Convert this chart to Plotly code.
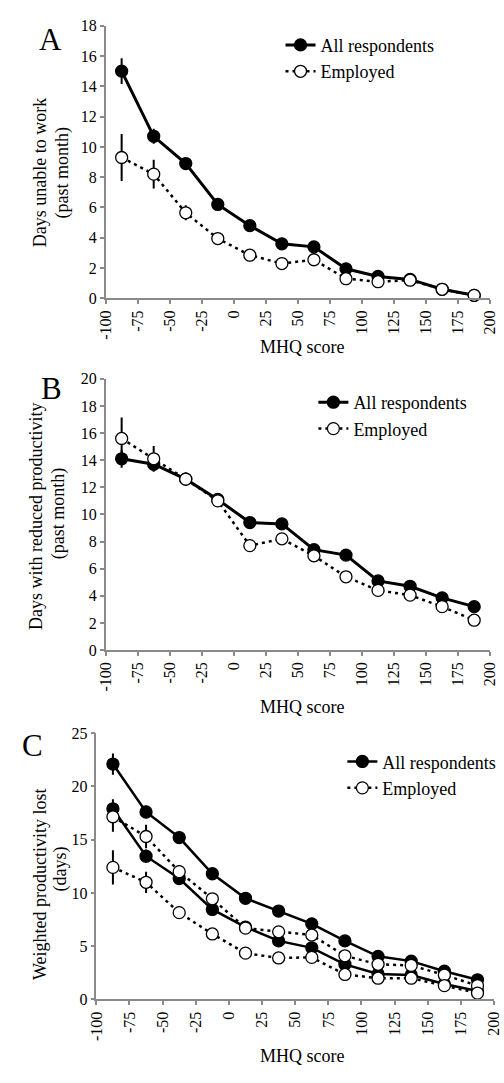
import plotly.graph_objects as go

W, H = 504, 1083

mhq = [-87.5, -62.5, -37.5, -12.5, 12.5, 37.5, 62.5, 87.5, 112.5, 137.5, 162.5, 187.5]
x_ticks = [-100, -75, -50, -25, 0, 25, 50, 75, 100, 125, 150, 175, 200]

# Panel A: days unable to work
a_all = [15.0, 10.7, 8.9, 6.2, 4.8, 3.6, 3.4, 1.95, 1.45, 1.25, 0.6, 0.2]
a_all_err = [0.85, 0.5, 0.35, 0.3, 0.25, 0.2, 0.25, 0.2, 0.15, 0.15, 0.1, 0.05]
a_emp = [9.3, 8.2, 5.65, 3.95, 2.85, 2.3, 2.55, 1.3, 1.1, 1.2, 0.6, 0.2]
a_emp_err = [1.55, 0.95, 0.5, 0.35, 0.3, 0.25, 0.3, 0.2, 0.15, 0.15, 0.1, 0.05]

# Panel B: days with reduced productivity
b_all = [14.1, 13.7, 12.6, 11.1, 9.4, 9.3, 7.4, 7.0, 5.1, 4.7, 3.85, 3.2]
b_all_err = [0.65, 0.5, 0.4, 0.35, 0.35, 0.3, 0.3, 0.3, 0.25, 0.25, 0.25, 0.3]
b_emp = [15.6, 14.1, 12.6, 11.0, 7.7, 8.2, 6.95, 5.4, 4.4, 4.05, 3.2, 2.2]
b_emp_err = [1.55, 0.95, 0.5, 0.4, 0.4, 0.35, 0.35, 0.3, 0.3, 0.3, 0.3, 0.3]

# Panel C: weighted productivity lost (two series per group)
c_all_hi = [22.1, 17.6, 15.2, 11.8, 9.5, 8.3, 7.1, 5.5, 4.05, 3.6, 2.65, 1.85]
c_all_hi_err = [1.0, 0.6, 0.45, 0.4, 0.35, 0.3, 0.3, 0.3, 0.25, 0.25, 0.2, 0.2]
c_all_lo = [17.9, 13.45, 11.35, 8.45, 6.8, 5.5, 4.85, 3.3, 2.4, 2.3, 1.45, 0.8]
c_all_lo_err = [0.9, 0.6, 0.45, 0.4, 0.35, 0.3, 0.3, 0.25, 0.2, 0.2, 0.2, 0.15]
c_emp_hi = [17.15, 15.3, 12.0, 9.45, 6.7, 6.35, 6.05, 4.1, 3.3, 3.2, 2.3, 1.3]
c_emp_hi_err = [1.4, 1.1, 0.6, 0.5, 0.4, 0.35, 0.35, 0.3, 0.3, 0.3, 0.25, 0.2]
c_emp_lo = [12.4, 11.0, 8.15, 6.15, 4.35, 3.9, 3.95, 2.35, 2.0, 2.0, 1.3, 0.6]
c_emp_lo_err = [1.6, 1.0, 0.55, 0.45, 0.35, 0.3, 0.3, 0.25, 0.2, 0.2, 0.2, 0.15]

FONT = "Liberation Serif, Times New Roman, serif"


def px_x(x):
    return x / W


def px_y(y):
    return 1 - y / H


fig = go.Figure()


def add_series(y, err, xa, ya, name, filled, legend, show, lw):
    fig.add_trace(go.Scatter(
        x=mhq, y=y, xaxis=xa, yaxis=ya, name=name, mode="lines+markers",
        legend=legend, showlegend=show, legendgroup=legend + name,
        line=dict(color="black", width=lw, dash="solid" if filled else "3px,4px"),
        marker=dict(symbol="circle", size=12,
                    color="black" if filled else "white",
                    line=dict(color="black", width=1.3)),
        error_y=dict(type="data", array=err, visible=True, color="black",
                     thickness=2, width=0),
        cliponaxis=False,
    ))


add_series(a_all, a_all_err, "x", "y", "All respondents", True, "legend", True, 3)
add_series(a_emp, a_emp_err, "x", "y", "Employed", False, "legend", True, 2.5)
add_series(b_all, b_all_err, "x2", "y2", "All respondents", True, "legend2", True, 3)
add_series(b_emp, b_emp_err, "x2", "y2", "Employed", False, "legend2", True, 2.5)
add_series(c_all_hi, c_all_hi_err, "x3", "y3", "All respondents", True, "legend3", True, 2.5)
add_series(c_all_lo, c_all_lo_err, "x3", "y3", "All respondents", True, "legend3", False, 2.5)
add_series(c_emp_hi, c_emp_hi_err, "x3", "y3", "Employed", False, "legend3", True, 2.5)
add_series(c_emp_lo, c_emp_lo_err, "x3", "y3", "Employed", False, "legend3", False, 2.5)

axis_common = dict(showgrid=False, zeroline=False, showline=True, linecolor="#8a8a8a",
                   linewidth=1.5, ticks="outside", ticklen=4, tickcolor="#8a8a8a",
                   tickwidth=1.5, tickfont=dict(family=FONT, size=16, color="black"),
                   ticklabeloverflow="allow")

xaxis_common = dict(axis_common, range=[-100, 200], tickmode="array", tickvals=x_ticks,
                    ticktext=[str(v) for v in x_ticks], tickangle=-90)

panels = {
    "A": dict(x0=100, x1=498, y0=18, y1=295, yr=[0, 18], dy=2),
    "B": dict(x0=100, x1=498, y0=376.7, y1=652.3, yr=[0, 20], dy=2),
    "C": dict(x0=90.4, x1=502, y0=736.7, y1=1007.3, yr=[0, 25], dy=5),
}

layout = dict(
    width=W, height=H, margin=dict(l=0, r=0, t=0, b=0),
    paper_bgcolor="white", plot_bgcolor="white",
    font=dict(family=FONT, color="black"),
)
for i, (k, p) in enumerate(panels.items()):
    s = "" if i == 0 else str(i + 1)
    layout["xaxis" + s] = dict(xaxis_common, domain=[px_x(p["x0"]), px_x(p["x1"])],
                               anchor="y" + s)
    layout["yaxis" + s] = dict(axis_common, domain=[px_y(p["y1"]), px_y(p["y0"])],
                               range=p["yr"], dtick=p["dy"], tick0=0, anchor="x" + s)

legend_pos = {"legend": (286, 24), "legend2": (320, 387), "legend3": (350, 752)}
for name, (lx, ly) in legend_pos.items():
    layout[name] = dict(x=px_x(lx - 5), y=px_y(ly - 5), xanchor="left", yanchor="top",
                        bgcolor="rgba(0,0,0,0)", font=dict(family=FONT, size=18, color="black"),
                        tracegroupgap=0, itemwidth=30)

fig.update_layout(**layout)

ann = []
# panel letters
for txt, (cx, cy) in {"A": (43, 32), "B": (44, 387), "C": (24, 749)}.items():
    ann.append(dict(text=txt, x=px_x(cx), y=px_y(cy), font=dict(size=31)))
# x titles
for cy in [344, 710, 1065]:
    ann.append(dict(text="MHQ score", x=px_x(303), y=px_y(cy), font=dict(size=18)))
# y titles
ytitles = [
    ("Days unable to work", 32, 167), ("(past month)", 55, 167),
    ("Days with reduced productivity", 28, 517), ("(past month)", 52, 513),
    ("Weighted productivity lost", 32, 890), ("(days)", 53, 875),
]
for txt, cx, cy in ytitles:
    ann.append(dict(text=txt, x=px_x(cx), y=px_y(cy), textangle=-90, font=dict(size=18)))

for a in ann:
    a.update(xref="paper", yref="paper", showarrow=False, xanchor="center", yanchor="middle")
    a["font"].update(family=FONT, color="black")

fig.update_layout(annotations=ann)

fig.write_html("out.html")
